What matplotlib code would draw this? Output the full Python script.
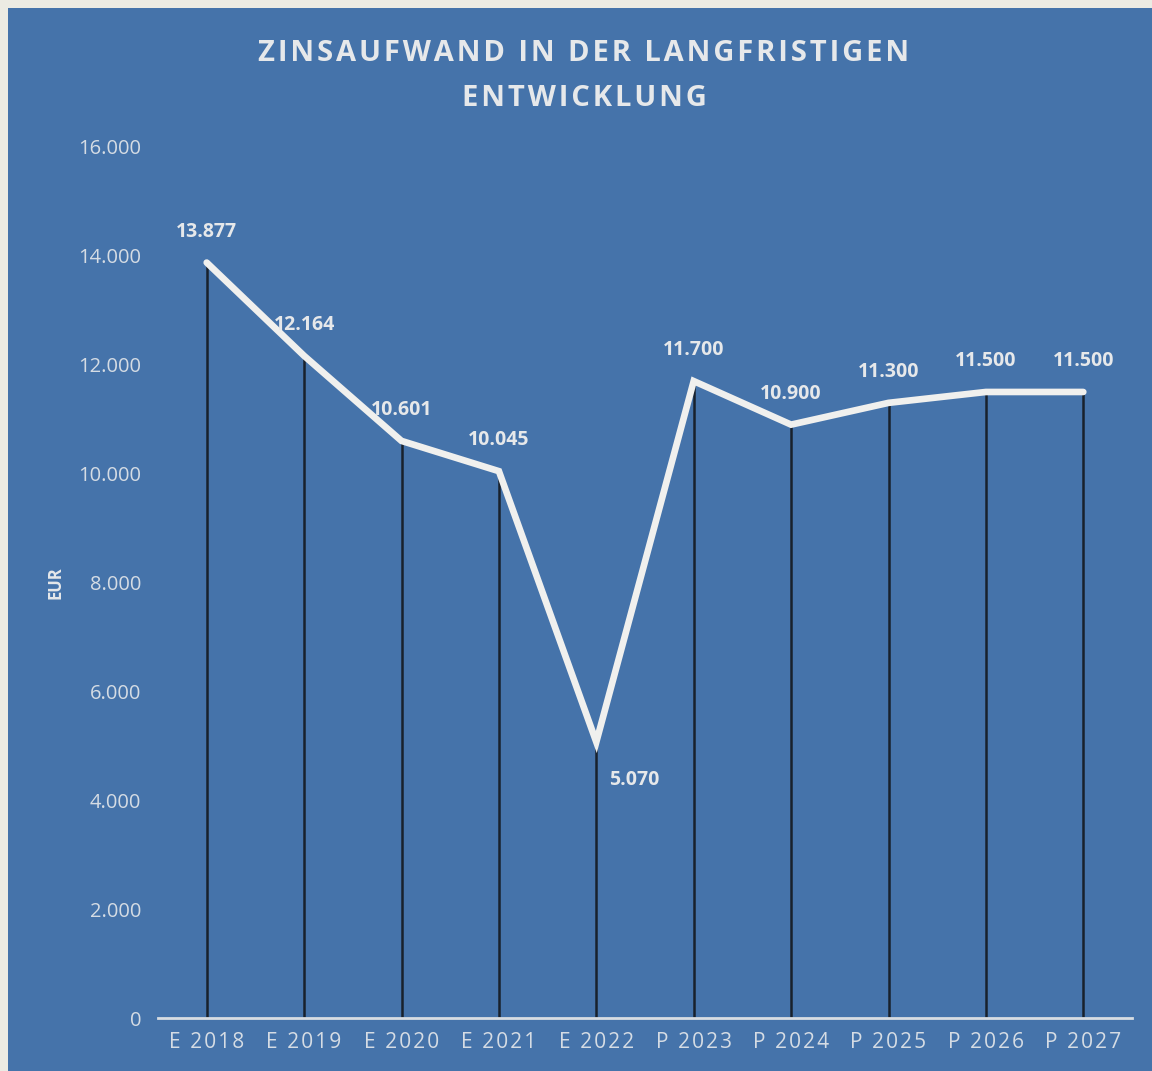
import matplotlib
matplotlib.use("Agg")
import matplotlib.pyplot as plt
from matplotlib.patches import Rectangle

categories = ["E 2018", "E 2019", "E 2020", "E 2021", "E 2022",
              "P 2023", "P 2024", "P 2025", "P 2026", "P 2027"]
values = [13877, 12164, 10601, 10045, 5070, 11700, 10900, 11300, 11500, 11500]
labels = ["13.877", "12.164", "10.601", "10.045", "5.070",
          "11.700", "10.900", "11.300", "11.500", "11.500"]
yticks = [0, 2000, 4000, 6000, 8000, 10000, 12000, 14000, 16000]
ytick_labels = ["0", "2.000", "4.000", "6.000", "8.000", "10.000", "12.000", "14.000", "16.000"]
title_lines = ["ZINSAUFWAND IN DER LANGFRISTIGEN", "ENTWICKLUNG"]

plt.rcParams['font.family'] = ['Open Sans', 'DejaVu Sans']


def spaced(s, sep="\u200a"):
    return sep.join(s)


bg = "#4573aa"
txt = "#e6e8ea"
tick_c = "#d5dce4"

fig = plt.figure(figsize=(11.52, 10.71), dpi=100)
fig.patch.set_facecolor("#ecebe3")
fig.add_artist(Rectangle((8/1152, 0), 1 - 8/1152, 1 - 8/1071,
                         transform=fig.transFigure, facecolor=bg,
                         edgecolor="none", zorder=0))

ax = fig.add_axes([158/1152, 1 - 1018/1071, (1132 - 158)/1152, (1018 - 147)/1071])
ax.set_facecolor("none")
x = list(range(len(categories)))

ax.vlines(x, 0, values, colors="#18212c", linewidth=1.8, zorder=2)
ax.plot(x, values, color="#f0f0ee", linewidth=4.8, solid_capstyle="round",
        solid_joinstyle="miter", zorder=3)

for i, (v, lab) in enumerate(zip(values, labels)):
    if i == 4:
        off = (27, -20)
        va = "top"
    else:
        off = (0, 15)
        va = "bottom"
    ax.annotate(lab, (i, v), xytext=off, textcoords="offset points",
                ha="center", va=va, color=txt, fontsize=14, fontweight="bold",
                zorder=4)

ax.set_xlim(-0.5, 9.5)
ax.set_ylim(0, 16000)
ax.set_yticks(yticks)
ax.set_yticklabels(ytick_labels)
ax.set_xticks(x)
ax.set_xticklabels([spaced(c) for c in categories])
ax.tick_params(axis="both", length=0, colors=tick_c, labelsize=14.5)
ax.tick_params(axis="y", pad=12)
ax.tick_params(axis="x", pad=10)
for lab in ax.get_xticklabels():
    lab.set_fontsize(15)
for s in ["top", "right", "left"]:
    ax.spines[s].set_visible(False)
ax.spines["bottom"].set_color("#d8dde2")
ax.spines["bottom"].set_linewidth(2)

ax.set_ylabel("EUR", color=txt, fontsize=12, fontweight="bold", labelpad=10)

fig.text(584/1152, 1 - 76/1071, "\n".join(spaced(t, "\u200a") for t in title_lines),
         ha="center", va="center", color=txt, fontsize=21, fontweight="bold",
         linespacing=1.7)

fig.savefig("out.png", dpi=100, facecolor=fig.get_facecolor())
